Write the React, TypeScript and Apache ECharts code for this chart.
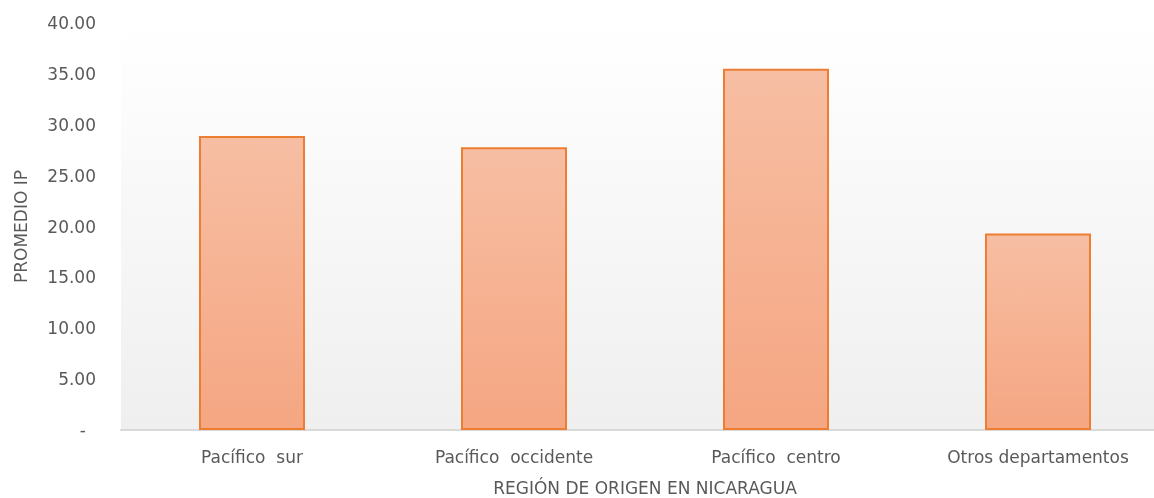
import React, { useEffect, useRef } from "react";
import * as echarts from "echarts";

const categories = ["Pacífico  sur", "Pacífico  occidente", "Pacífico  centro", "Otros departamentos"];
const values = [28.9, 27.8, 35.5, 19.3];
const yAxisTitle = "PROMEDIO IP";
const xAxisTitle = "REGIÓN DE ORIGEN EN NICARAGUA";

const FONT = "'DejaVu Sans', sans-serif";
const TEXT = "#595959";
const FS = 17;

export default function App() {
  const ref = useRef<HTMLDivElement>(null);
  useEffect(() => {
    const chart = echarts.init(ref.current!, null, { renderer: "svg" });
    chart.setOption({
      animation: false,
      grid: {
        left: 121,
        top: 23,
        bottom: 68,
        width: 1048,
        outerBoundsMode: "none",
        containLabel: false,
        show: true,
        borderWidth: 0,
        backgroundColor: new echarts.graphic.LinearGradient(0, 0, 0, 1, [
          { offset: 0, color: "#ffffff" },
          { offset: 1, color: "#efefef" },
        ]),
      },
      xAxis: {
        type: "category",
        data: categories,
        name: xAxisTitle,
        nameLocation: "middle",
        nameGap: 49,
        nameTextStyle: { color: TEXT, fontSize: FS, fontFamily: FONT },
        axisLine: { show: true, lineStyle: { color: "#d9d9d9", width: 2 } },
        axisTick: { show: false },
        axisLabel: { color: TEXT, fontSize: FS, fontFamily: FONT, margin: 18 },
      },
      yAxis: {
        type: "value",
        min: 0,
        max: 40,
        interval: 5,
        name: yAxisTitle,
        nameLocation: "middle",
        nameGap: 92,
        nameTextStyle: { color: TEXT, fontSize: FS, fontFamily: FONT },
        axisLine: { show: false },
        axisTick: { show: false },
        splitLine: { show: false },
        axisLabel: {
          color: TEXT,
          fontSize: FS,
          fontFamily: FONT,
          margin: 25,
          formatter: (v: number) => (v === 0 ? "{z|-}" : v.toFixed(2)),
          rich: {
            z: { color: TEXT, fontSize: FS, fontFamily: FONT, padding: [0, 10, 0, 0] },
          },
        },
      },
      series: [
        {
          type: "bar",
          data: values,
          barWidth: 106,
          itemStyle: {
            color: new echarts.graphic.LinearGradient(0, 0, 0, 1, [
              { offset: 0, color: "#f7bea3" },
              { offset: 1, color: "#f5a682" },
            ]),
            borderColor: "#ed7d31",
            borderWidth: 2,
          },
        },
      ],
    });
    return () => chart.dispose();
  }, []);
  return (
    <div
      ref={ref}
      style={{ position: "fixed", left: 0, top: 0, width: 1154, height: 498, overflow: "hidden" }}
    />
  );
}
